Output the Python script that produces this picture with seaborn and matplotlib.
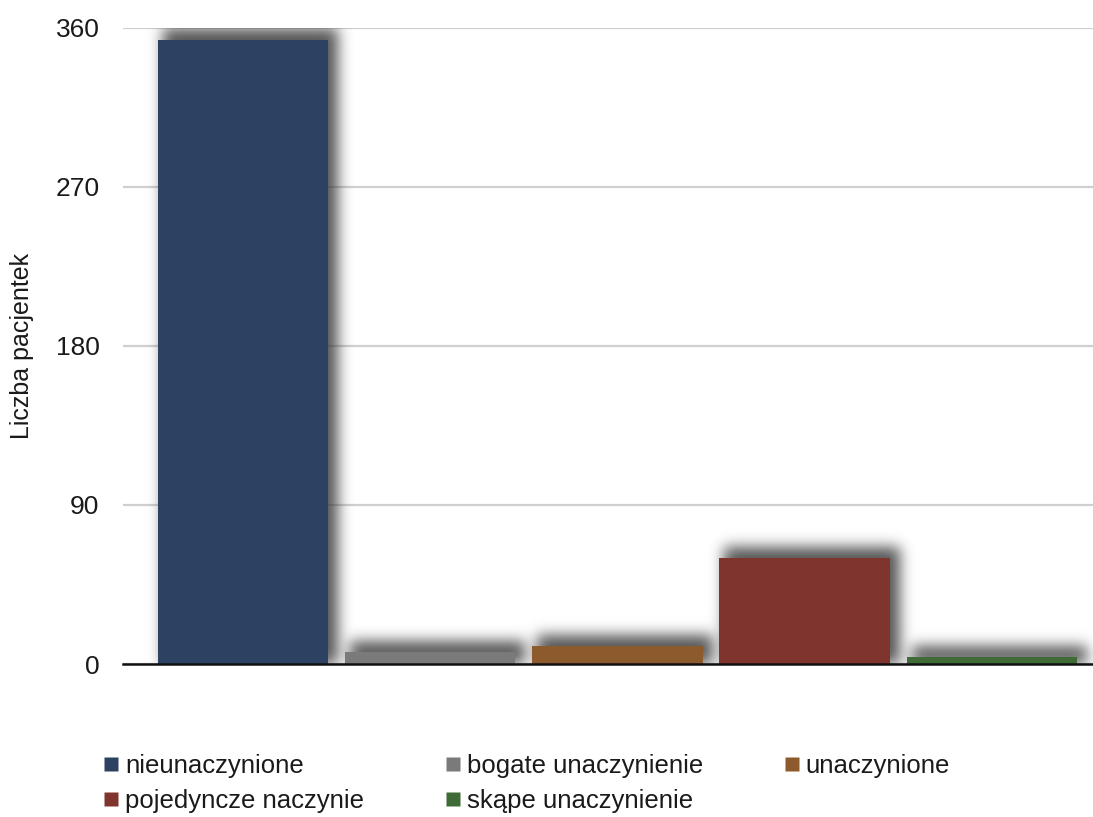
import numpy as np
import matplotlib
matplotlib.use("Agg")
import matplotlib.pyplot as plt
from matplotlib.lines import Line2D
import seaborn as sns

# Vascularisation categories and patient counts
categories = ["nieunaczynione", "bogate unaczynienie", "unaczynione",
              "pojedyncze naczynie", "skąpe unaczynienie"]
counts = [353, 7, 10, 60, 4]
bar_colors = ["#2D4263", "#7A7A7A", "#8C5A2C", "#7F342D", "#3F6B36"]
y_ticks = [0, 90, 180, 270, 360]
y_label = "Liczba pacjentek"

sns.set_theme(style="white")
plt.rcParams["font.family"] = ["Liberation Sans", "DejaVu Sans"]

W, H, DPI = 1093, 817, 100
fig = plt.figure(figsize=(W / DPI, H / DPI), dpi=DPI, facecolor="white")
ax = fig.add_axes([123 / W, (H - 664) / H, (W - 123) / W, (664 - 28) / H])

sns.barplot(x=categories, y=counts, hue=categories, palette=bar_colors,
            width=0.91, saturation=1, legend=False, ax=ax)
for p in ax.patches:
    p.set_edgecolor("none")
    p.set_zorder(2)

ax.set_xlim(-0.64, 4.54)
ax.set_ylim(0, 360)
ax.set_yticks(y_ticks)
ax.set_yticklabels([str(t) for t in y_ticks])
ax.tick_params(axis="y", length=0, pad=17, labelsize=19, labelcolor="#1a1a1a")
ax.set_xticks([])
ax.set_xlabel("")
ax.set_ylabel(y_label, fontsize=18, color="#1a1a1a", labelpad=15)
ax.set_axisbelow(True)
ax.yaxis.grid(True, color="#cfcfcf", linewidth=1.6)
for side in ["left", "right", "top"]:
    ax.spines[side].set_visible(False)
ax.spines["bottom"].set_color("#111111")
ax.spines["bottom"].set_linewidth(1.8)

# Soft drop shadow behind each bar (offset up and to the right)
fig.canvas.draw()
abox = ax.get_window_extent()
aw, ah = int(round(abox.width)), int(round(abox.height))
sigma, dx, dy = 7.0, 7, 11
k = np.arange(-int(3 * sigma), int(3 * sigma) + 1)
kern = np.exp(-0.5 * (k / sigma) ** 2)
kern /= kern.sum()
keep = np.ones((ah, aw))
xs = np.arange(aw) + 0.5
ys = np.arange(ah) + 0.5
for p in ax.patches:
    b = p.get_window_extent()
    x0, x1 = b.x0 - abox.x0 + dx - 2, b.x1 - abox.x0 + dx + 3
    y0, y1 = b.y0 - abox.y0, b.y1 - abox.y0 + dy
    bx = ((xs >= x0) & (xs <= x1)).astype(float)
    by = ((ys >= y0) & (ys <= y1)).astype(float)
    fx = np.convolve(bx, kern, mode="same")
    fy = np.convolve(by, kern, mode="same")
    keep *= 1 - 0.85 * np.outer(fy, fx)
alpha = 1 - keep
shadow = np.zeros((ah, aw, 4))
shadow[..., :3] = 0.22
shadow[..., 3] = alpha
ax.imshow(shadow, extent=(0, 1, 0, 1), transform=ax.transAxes,
          origin="lower", aspect="auto", interpolation="bilinear", zorder=1)
ax.set_xlim(-0.64, 4.54)
ax.set_ylim(0, 360)

# Legend laid out row-wise in three columns
handles = [Line2D([], [], marker="s", linestyle="", markersize=9.5,
                  markerfacecolor=c, markeredgecolor="none") for c in bar_colors]
order = [0, 3, 1, 4, 2]
fig.legend([handles[i] for i in order], [categories[i] for i in order],
           loc="upper left", bbox_to_anchor=(89 / W, 76 / H), ncol=3,
           frameon=False, fontsize=18.5, handlelength=0.7, handletextpad=0.2,
           columnspacing=3.1, labelspacing=0.45, borderpad=0,
           labelcolor="#1a1a1a")

fig.savefig("out.png", dpi=DPI, facecolor="white")
